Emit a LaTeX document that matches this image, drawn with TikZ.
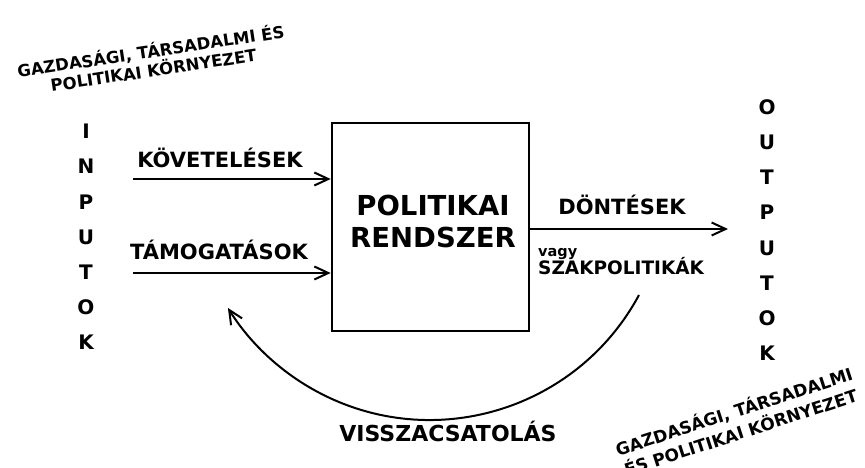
\documentclass[tikz,border=0pt]{standalone}
\usepackage{fontspec}
\setmainfont{DejaVu Sans}
\usetikzlibrary{arrows.meta}
\tikzset{
  lbl/.style={font=\bfseries\fontsize{21}{25}\selectfont, inner sep=0pt},
  conn/.style={line width=2.2pt, -{Straight Barb[length=14pt,width=13pt,line width=2pt]}},
  sysbox/.style={draw, line width=2.6pt, minimum width=197pt, minimum height=208pt, inner sep=0pt},
  column/.style={font=\bfseries\fontsize{20}{35.2}\selectfont, align=center, inner sep=0pt},
  env/.style={align=center, inner sep=0pt},
}
\begin{document}
\begin{tikzpicture}[x=1pt,y=1pt]
\useasboundingbox[fill=white] (0,0) rectangle (865,468);

% environment labels
\node[env, rotate=8.5, font=\bfseries\fontsize{16.5}{19}\selectfont] (envtop) at (152,408.4)
  {GAZDASÁGI, TÁRSADALMI ÉS\\POLITIKAI KÖRNYEZET};
\node[env, rotate=18, font=\bfseries\fontsize{17}{21.8}\selectfont] (envbot) at (737,47)
  {GAZDASÁGI, TÁRSADALMI\\ÉS POLITIKAI KÖRNYEZET};

% columns
\node[column] (inputok) at (86,231) {I\\N\\P\\U\\T\\O\\K};
\node[column] (outputok) at (767,238) {O\\U\\T\\P\\U\\T\\O\\K};

% system box
\node[sysbox] (sys) at (430.5,241) {};
\node[lbl, align=center, font=\bfseries\fontsize{27.5}{32}\selectfont] (systext) at (433,247) {POLITIKAI\\RENDSZER};

% inputs
\coordinate (in1) at (133,289);
\coordinate (in2) at (133,195);
\draw[conn] (in1) -- (in1 -| sys.west);
\draw[conn] (in2) -- (in2 -| sys.west);
\node[lbl] (kov) at (220,310) {KÖVETELÉSEK};
\node[lbl] (tam) at (219,218) {TÁMOGATÁSOK};

% output
\coordinate (out) at (728,239);
\draw[conn] (sys.east |- out) -- (out);
\node[lbl] (dont) at (622,263) {DÖNTÉSEK};
\node[lbl, anchor=base west, font=\bfseries\fontsize{14.5}{17}\selectfont] (vagy) at (538,211) {vagy};
\node[lbl, anchor=base west, font=\bfseries\fontsize{18.5}{22}\selectfont] (szak) at (538,193) {SZAKPOLITIKÁK};

% feedback
\coordinate (fbstart) at (639,173);
\draw[conn, line width=2pt] (fbstart) arc[start angle=-28.3, end angle=-148.1, radius=237.7pt];
\node[lbl, anchor=base, font=\bfseries\fontsize{22}{26}\selectfont] (fb) at (448,26) {VISSZACSATOLÁS};
\end{tikzpicture}
\end{document}
